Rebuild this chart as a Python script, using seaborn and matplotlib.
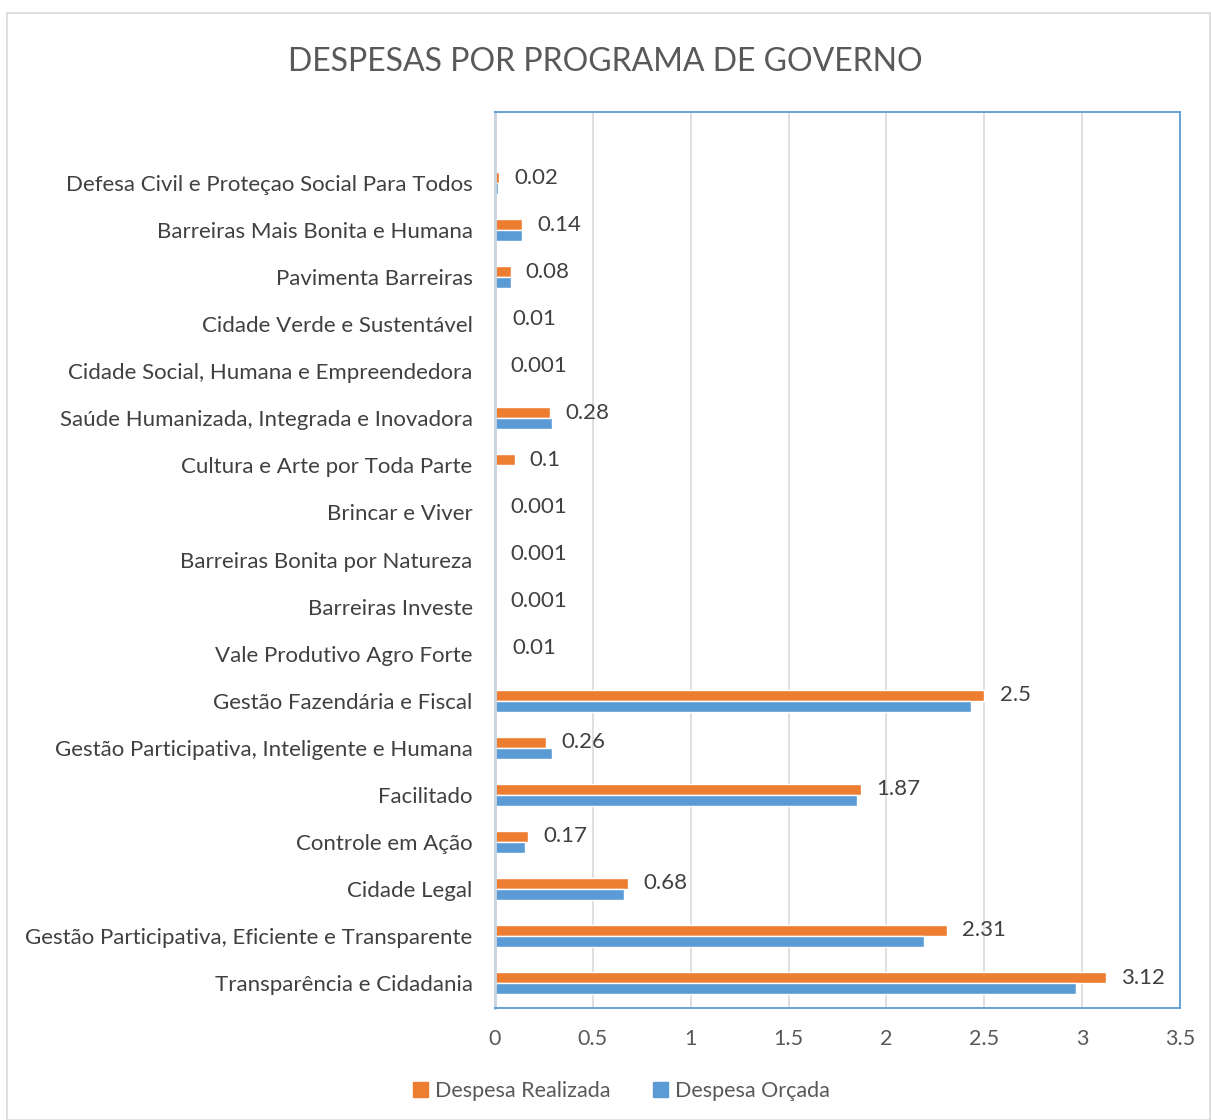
import pandas as pd
import matplotlib.pyplot as plt
import matplotlib.patches as mpatches
import seaborn as sns

# programas, de cima para baixo
programas = [
    "Defesa Civil e Proteçao Social Para Todos",
    "Barreiras Mais Bonita e Humana",
    "Pavimenta Barreiras",
    "Cidade Verde e Sustentável",
    "Cidade Social, Humana e Empreendedora",
    "Saúde Humanizada, Integrada e Inovadora",
    "Cultura e Arte por Toda Parte",
    "Brincar e Viver",
    "Barreiras Bonita por Natureza",
    "Barreiras Investe",
    "Vale Produtivo Agro Forte",
    "Gestão Fazendária e Fiscal",
    "Gestão Participativa, Inteligente e Humana",
    "Facilitado",
    "Controle em Ação",
    "Cidade Legal",
    "Gestão Participativa, Eficiente e Transparente",
    "Transparência e Cidadania",
]
despesa_realizada = [0.02, 0.14, 0.08, 0.01, 0.001, 0.28, 0.1, 0.001, 0.001,
                     0.001, 0.01, 2.5, 0.26, 1.87, 0.17, 0.68, 2.31, 3.12]
despesa_orcada = [0.015, 0.14, 0.08, 0.005, 0.0, 0.29, 0.005, 0.0, 0.0,
                  0.005, 0.005, 2.43, 0.29, 1.85, 0.155, 0.66, 2.19, 2.97]
series = ["Despesa Realizada", "Despesa Orçada"]
cores = ["#ED7D31", "#5B9BD5"]
xticks = [0, 0.5, 1, 1.5, 2, 2.5, 3, 3.5]


def build_frame():
    df = pd.DataFrame({
        "programa": programas * 2,
        "valor": despesa_realizada + despesa_orcada,
        "serie": [series[0]] * len(programas) + [series[1]] * len(programas),
    })
    return df


def plot_chart(df):
    sns.set_style("white")
    plt.rcParams["font.family"] = ["Lato", "DejaVu Sans"]

    fig = plt.figure(figsize=(12.11, 11.2), dpi=100)
    ax = fig.add_axes([0.4087, 0.1, 0.5657, 0.8])

    sns.barplot(data=df, y="programa", x="valor", hue="serie", order=programas,
                hue_order=series, palette=cores, orient="h", width=0.47,
                ax=ax, legend=False, saturation=1)

    # rótulos de dados (somente despesa realizada)
    ax.bar_label(ax.containers[0], labels=[f"{v:g}" for v in despesa_realizada],
                 padding=11, fontsize=16, color="#404040")

    ax.set_xlim(0, 3.5)
    ax.set_ylim(len(programas) - 0.47, -1.51)
    ax.set_xticks(xticks)
    ax.set_xticklabels([f"{t:g}" for t in xticks])
    ax.grid(axis="x", color="#D9D9D9", linewidth=1.2)
    ax.set_axisbelow(True)
    ax.set_xlabel("")
    ax.set_ylabel("")
    ax.tick_params(axis="both", length=0, labelsize=16, colors="#404040")
    ax.tick_params(axis="x", labelsize=15.5, colors="#595959", pad=15)
    ax.tick_params(axis="y", pad=16)
    for lado in ["top", "right", "bottom"]:
        ax.spines[lado].set_color("#5B9BD5")
        ax.spines[lado].set_linewidth(1.3)
    ax.spines["left"].set_color("#C9D3DE")
    ax.spines["left"].set_linewidth(2)

    fig.suptitle("DESPESAS POR PROGRAMA DE GOVERNO", y=0.958, fontsize=23,
                 color="#595959")

    handles = [mpatches.Patch(color=c, label=s) for c, s in zip(cores, series)]
    fig.legend(handles=handles, loc="center", bbox_to_anchor=(0.513, 0.026),
               ncol=2, frameon=False, fontsize=15.5, handlelength=0.7,
               handleheight=0.7, handletextpad=0.3, columnspacing=2.0,
               labelcolor="#595959")

    # borda do gráfico
    fig.patches.append(mpatches.Rectangle((0.006, 0.0), 0.993, 0.988,
                                          transform=fig.transFigure, fill=False,
                                          edgecolor="#D9D9D9", linewidth=1.2))

    fig.savefig("out.png", dpi=100)


if __name__ == "__main__":
    df = build_frame()
    plot_chart(df)
